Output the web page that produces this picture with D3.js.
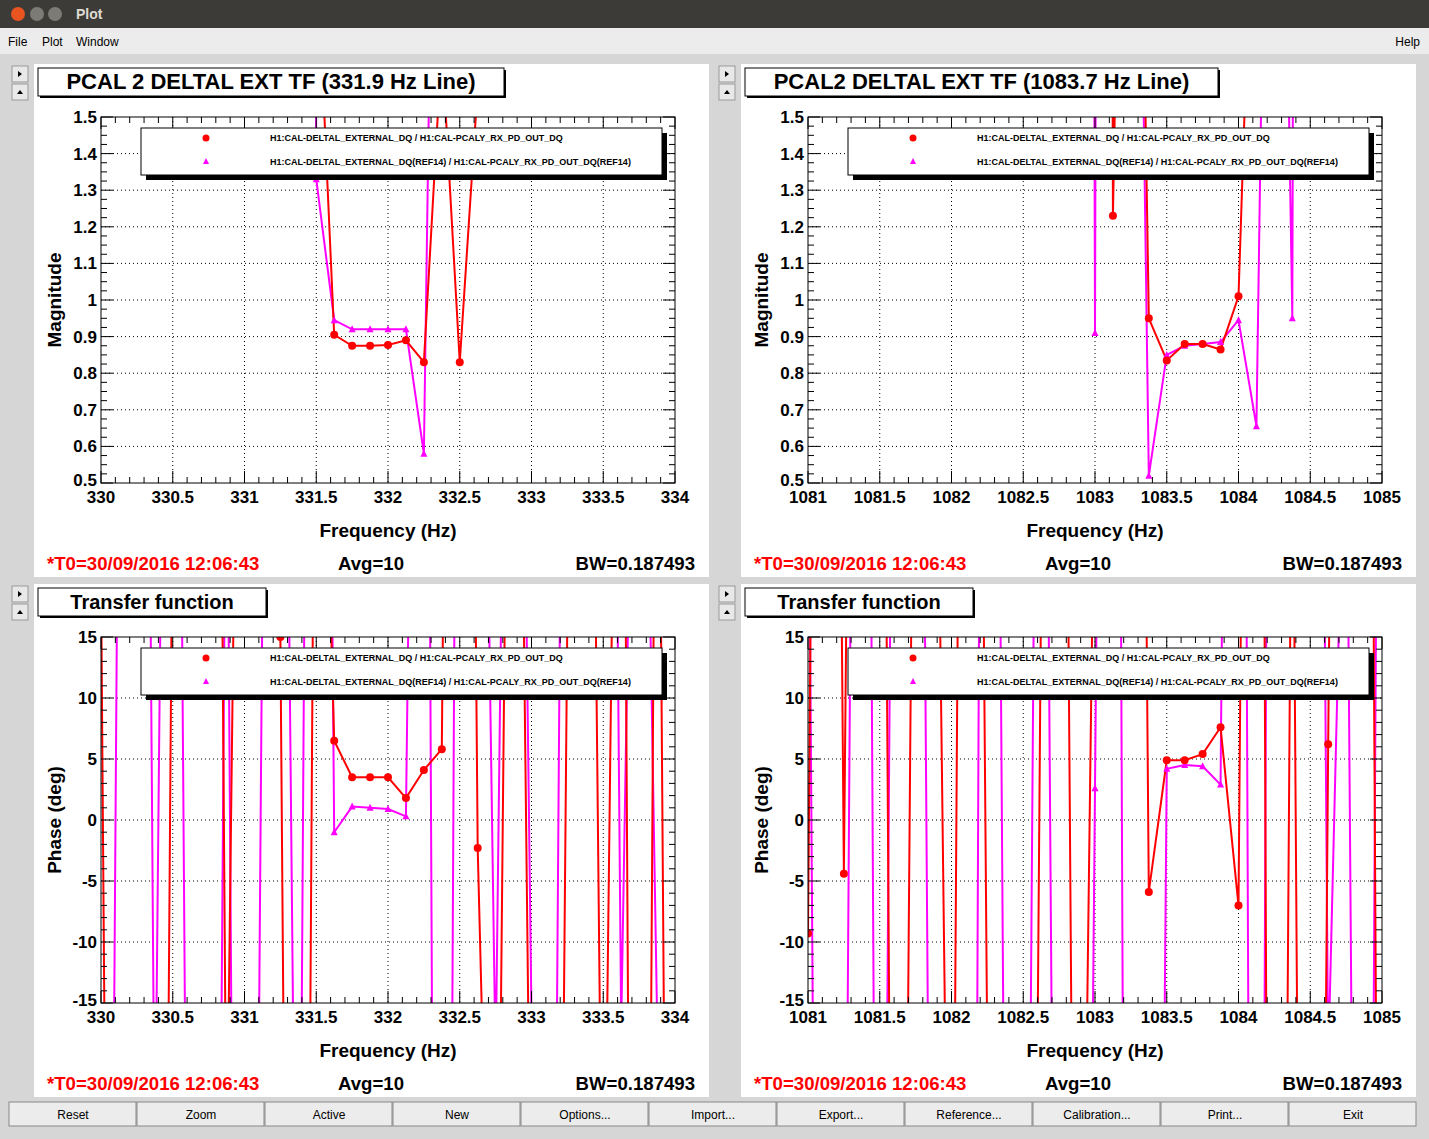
<!DOCTYPE html>
<html><head><meta charset="utf-8">
<script src="https://cdn.jsdelivr.net/npm/d3@7"></script>
<style>body{margin:0;background:#d9d9d9;font-family:"Liberation Sans",Arial,sans-serif;}svg{display:block}</style>
</head><body><svg id="c" width="1429" height="1139"></svg>
<script>
// ---- data ----
const leftStart = 330, rightStart = 1081, step = 0.125;
const leftMagRed = [20,20,20,20,20,20,20,20,20,20,20,20,2,0.905,0.875,0.875,0.877,0.89,0.83,1.7,0.83,1.58,20,20,20,20,20,20,20,20,20,20,20];
const leftMagRef = [20,20,20,20,20,20,20,20,20,20,20,20,1.33,0.945,0.92,0.92,0.92,0.92,0.58,4,20,20,20,20,20,20,20,20,20,20,20,20,20];
const rightMagRed = [20,20,20,20,20,20,20,20,20,20,20,20,20,20,20,20,20,1.23,4,0.95,0.835,0.88,0.88,0.865,1.01,2.5,20,20,20,20,20,20,20];
const rightMagRef = [20,20,20,20,20,20,20,20,20,20,20,20,20,20,20,20,0.91,20,4,0.52,0.85,0.875,0.88,0.885,0.945,0.655,4,0.95,20,20,20,20,20];
const leftPhRed = [20,-170,-150,-170,30,60,170,-30,90,150,15,-170,60,6.5,3.5,3.5,3.5,1.8,4.1,5.8,170,-2.3,-60,90,-39,-150,17,100,-43,80,-170,60,-140];
const leftPhRef = [-170,40,170,-30,120,-80,-160,40,-170,19,90,-60,170,-1,1.1,1.0,0.9,0.3,120,-180,100,80,-20,100,-16,-100,100,130,150,-17,70,-16,-100];
const rightPhRed = [-9.3,170,-4.4,150,100,-120,60,60,-60,160,-20,-100,-170,20,120,-80,34,100,170,-5.9,4.9,4.9,5.4,7.6,-7,170,-170,40,-170,6.2,170,150,-100];
const rightPhRef = [40,-170,-60,150,-100,100,120,-80,-120,-160,170,-40,-100,100,-100,-160,2.6,170,-170,-170,4.2,4.5,4.4,2.9,170,-170,170,150,170,-20,40,-150,100];
const magTicks = [0.5,0.6,0.7,0.8,0.9,1,1.1,1.2,1.3,1.4,1.5];
const phTicks = [-15,-10,-5,0,5,10,15];
const leftTicks = [330,330.5,331,331.5,332,332.5,333,333.5,334];
const rightTicks = [1081,1081.5,1082,1082.5,1083,1083.5,1084,1084.5,1085];
const legendLabels = ["H1:CAL-DELTAL_EXTERNAL_DQ / H1:CAL-PCALY_RX_PD_OUT_DQ","H1:CAL-DELTAL_EXTERNAL_DQ(REF14) / H1:CAL-PCALY_RX_PD_OUT_DQ(REF14)"];
const buttons = ["Reset","Zoom","Active","New","Options...","Import...","Export...","Reference...","Calibration...","Print...","Exit"];

const svg = d3.select("#c");
svg.append("rect").attr("width",1429).attr("height",1139).attr("fill","#d6d6d6");
svg.append("rect").attr("width",1429).attr("height",28).attr("fill","#3c3b37");
[[18,"#e95420"],[37,"#7d7b75"],[55,"#7d7b75"]].forEach(([x,c])=>svg.append("circle").attr("cx",x).attr("cy",14).attr("r",7).attr("fill",c));
svg.append("text").attr("x",76).attr("y",19).attr("fill","#dfdbd2").attr("font-size",14).attr("font-weight","bold").text("Plot");
svg.append("rect").attr("y",28).attr("width",1429).attr("height",26).attr("fill","#ececec");
[["File",8],["Plot",42],["Window",76]].forEach(([t,x])=>svg.append("text").attr("x",x).attr("y",46).attr("font-size",12).text(t));
svg.append("text").attr("x",1420).attr("y",46).attr("font-size",12).attr("text-anchor","end").text("Help");
svg.append("rect").attr("x",4).attr("y",58).attr("width",1421).attr("height",1040).attr("fill","#d6d6d6");

function panel(px, py, title, titleW, titleSize, xStart, ticksX, yDomain, yTicks, yMinor, yLabel, red, ref){
  const W = 675, H = 513;
  svg.append("rect").attr("x",px).attr("y",py).attr("width",W).attr("height",H).attr("fill","#fff");
  [[px-22,py+2],[px-22,py+20]].forEach(([x,y],i)=>{
    svg.append("rect").attr("x",x).attr("y",y).attr("width",16).attr("height",16).attr("fill","#e8e8e8").attr("stroke","#999");
    svg.append("path").attr("d", i==0? `M${x+6},${y+5}L${x+10},${y+8}L${x+6},${y+11}Z` : `M${x+5},${y+10}L${x+8},${y+6}L${x+11},${y+10}Z`).attr("fill","#000");
  });
  const L = px+67, R = px+641, T = py+53, B = py+419;
  const x = d3.scaleLinear().domain([xStart, xStart+4]).range([L,R]);
  const y = d3.scaleLinear().domain(yDomain).range([B,T]);
  const g = svg.append("g");
  ticksX.slice(1,-1).forEach(v=>g.append("line").attr("x1",x(v)).attr("x2",x(v)).attr("y1",T).attr("y2",B).attr("stroke","#000").attr("stroke-dasharray","1,3"));
  yTicks.slice(1,-1).forEach(v=>g.append("line").attr("x1",L).attr("x2",R).attr("y1",y(v)).attr("y2",y(v)).attr("stroke","#000").attr("stroke-dasharray","1,3"));
  const cid = "clip"+px+"_"+py;
  svg.append("clipPath").attr("id",cid).append("rect").attr("x",L).attr("y",T).attr("width",R-L).attr("height",B-T);
  const dg = svg.append("g").attr("clip-path",`url(#${cid})`);
  const line = d3.line().x((d,i)=>x(xStart+i*step)).y(d=>y(d));
  const inR = v=> v>=yDomain[0] && v<=yDomain[1];
  dg.append("path").attr("d",line(ref)).attr("fill","none").attr("stroke","#ff00ff").attr("stroke-width",2);
  dg.append("path").attr("d",line(red)).attr("fill","none").attr("stroke","#ff0000").attr("stroke-width",2);
  ref.forEach((v,i)=>{ if(inR(v)){const cx=x(xStart+i*step), cy=y(v);
    dg.append("path").attr("d",`M${cx},${cy-4}L${cx+3.5},${cy+3}L${cx-3.5},${cy+3}Z`).attr("fill","#ff00ff");}});
  red.forEach((v,i)=>{ if(inR(v)) dg.append("circle").attr("cx",x(xStart+i*step)).attr("cy",y(v)).attr("r",4).attr("fill","#ff0000");});
  const g2 = svg.append("g");
  d3.range(0,41).forEach(i=>{const v=xStart+i*0.1; const len = i%5==0?12:6;
    g2.append("line").attr("x1",x(v)).attr("x2",x(v)).attr("y1",B).attr("y2",B-len).attr("stroke","#000");
    g2.append("line").attr("x1",x(v)).attr("x2",x(v)).attr("y1",T).attr("y2",T+len).attr("stroke","#000");});
  const per = Math.round((yTicks[1]-yTicks[0])/yMinor);
  const nMin = Math.round((yDomain[1]-yDomain[0])/yMinor);
  d3.range(0,nMin+1).forEach(i=>{const v=yDomain[0]+i*yMinor; const len = i%per==0?12:6;
    g2.append("line").attr("x1",L).attr("x2",L+len).attr("y1",y(v)).attr("y2",y(v)).attr("stroke","#000");
    g2.append("line").attr("x1",R).attr("x2",R-len).attr("y1",y(v)).attr("y2",y(v)).attr("stroke","#000");});
  g2.append("rect").attr("x",L).attr("y",T).attr("width",R-L).attr("height",B-T).attr("fill","none").attr("stroke","#000");
  ticksX.forEach(v=>g2.append("text").attr("x",x(v)).attr("y",B+20).attr("text-anchor","middle").attr("font-size",17).attr("font-weight","bold").text(v));
  yTicks.forEach((v,i)=>g2.append("text").attr("x",L-4).attr("y",y(v)+(i==0?3:6)).attr("text-anchor","end").attr("font-size",17).attr("font-weight","bold").text(v));
  g2.append("text").attr("transform",`translate(${px+27},${(T+B)/2}) rotate(-90)`).attr("text-anchor","middle").attr("font-size",19).attr("font-weight","bold").text(yLabel);
  g2.append("text").attr("x",px+354).attr("y",py+473).attr("text-anchor","middle").attr("font-size",19).attr("font-weight","bold").text("Frequency (Hz)");
  g2.append("text").attr("x",px+13).attr("y",py+506).attr("font-size",18.6).attr("font-weight","bold").attr("fill","#ff0000").text("*T0=30/09/2016 12:06:43");
  g2.append("text").attr("x",px+304).attr("y",py+506).attr("font-size",18.6).attr("font-weight","bold").text("Avg=10");
  g2.append("text").attr("x",px+661).attr("y",py+506).attr("text-anchor","end").attr("font-size",18.6).attr("font-weight","bold").text("BW=0.187493");
  const lx = px+107, ly = py+64, lw = 521, lh = 47;
  g2.append("rect").attr("x",lx+5).attr("y",ly+5).attr("width",lw).attr("height",lh).attr("fill","#000");
  g2.append("rect").attr("x",lx).attr("y",ly).attr("width",lw).attr("height",lh).attr("fill","#fff").attr("stroke","#000");
  g2.append("circle").attr("cx",lx+65).attr("cy",ly+10).attr("r",3.5).attr("fill","#ff0000");
  g2.append("path").attr("d",`M${lx+65},${ly+30}L${lx+68},${ly+36}L${lx+62},${ly+36}Z`).attr("fill","#ff00ff");
  legendLabels.forEach((t,i)=>g2.append("text").attr("x",lx+129).attr("y",ly+13+i*24).attr("font-size",9.0).attr("font-weight","bold").text(t));
  g2.append("rect").attr("x",px+6).attr("y",py+6).attr("width",titleW).attr("height",28).attr("fill","#000");
  g2.append("rect").attr("x",px+4).attr("y",py+4).attr("width",titleW).attr("height",28).attr("fill","#fff").attr("stroke","#000");
  g2.append("text").attr("x",px+4+titleW/2).attr("y",py+25).attr("text-anchor","middle").attr("font-size",titleSize).attr("font-weight","bold").text(title);
}
panel(34,64,"PCAL 2 DELTAL EXT TF (331.9 Hz Line)",466,22,leftStart,leftTicks,[0.5,1.5],magTicks,0.025,"Magnitude",leftMagRed,leftMagRef);
panel(741,64,"PCAL2 DELTAL EXT TF (1083.7 Hz Line)",473,22,rightStart,rightTicks,[0.5,1.5],magTicks,0.025,"Magnitude",rightMagRed,rightMagRef);
panel(34,584,"Transfer function",228,20,leftStart,leftTicks,[-15,15],phTicks,1,"Phase (deg)",leftPhRed,leftPhRef);
panel(741,584,"Transfer function",228,20,rightStart,rightTicks,[-15,15],phTicks,1,"Phase (deg)",rightPhRed,rightPhRef);
const bx = d3.scaleBand().domain(buttons).range([9,1417]);
buttons.forEach(b=>{
  svg.append("rect").attr("x",bx(b)).attr("y",1102).attr("width",bx.bandwidth()-1).attr("height",24).attr("fill","#ececec").attr("stroke","#888");
  svg.append("text").attr("x",bx(b)+bx.bandwidth()/2).attr("y",1119).attr("text-anchor","middle").attr("font-size",12).text(b);
});
</script></body></html>
